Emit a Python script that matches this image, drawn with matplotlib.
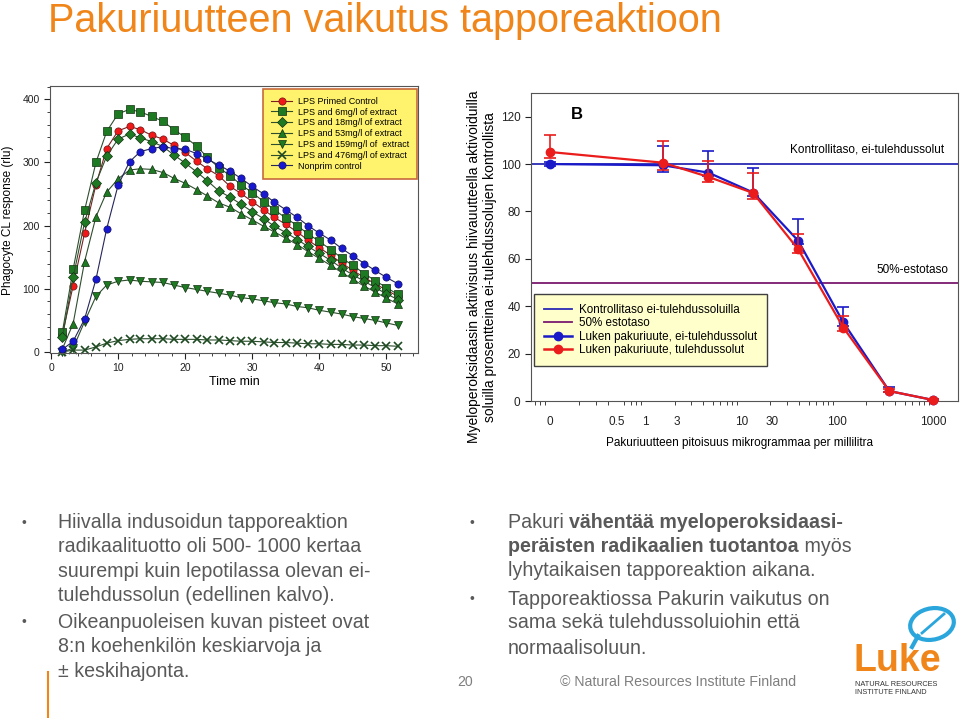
import matplotlib
matplotlib.use('Agg')
import matplotlib.pyplot as plt
from matplotlib.ticker import FixedLocator, MultipleLocator, NullFormatter, LogLocator, FixedFormatter
from matplotlib.patches import Ellipse
from matplotlib.lines import Line2D

plt.rcParams['font.family'] = ['Liberation Sans', 'DejaVu Sans']

W, H = 960, 718
fig = plt.figure(figsize=(9.6, 7.18), dpi=100)
fig.patch.set_facecolor('white')


def fx(x):
    return x / W


def fy(y):
    return 1 - y / H

# ---------------- data: left chart ----------------
time_min = [1.7, 3.3, 5.0, 6.7, 8.3, 10.0, 11.7, 13.3, 15.0, 16.7, 18.3, 20.0, 21.7, 23.3, 25.0, 26.7,
            28.3, 30.0, 31.7, 33.3, 35.0, 36.7, 38.3, 40.0, 41.7, 43.3, 45.0, 46.7, 48.3, 50.0, 51.7]
lps_control = [28, 105, 188, 265, 322, 350, 357, 352, 343, 337, 327, 316, 302, 290, 279, 262, 251, 238,
               225, 213, 202, 190, 177, 165, 153, 141, 129, 118, 108, 98, 88]
lps_6 = [32, 131, 224, 300, 349, 377, 384, 380, 373, 365, 352, 340, 326, 308, 292, 279, 265, 252, 238,
         225, 212, 200, 187, 175, 162, 149, 137, 124, 113, 102, 91]
lps_18 = [23, 118, 205, 268, 310, 337, 345, 339, 333, 325, 312, 299, 285, 271, 255, 245, 234, 222, 211,
          199, 189, 178, 167, 156, 145, 133, 122, 112, 102, 92, 83]
lps_53 = [5, 45, 143, 214, 253, 274, 288, 290, 289, 284, 275, 267, 257, 247, 236, 229, 219, 209, 199,
          190, 180, 170, 159, 148, 137, 126, 115, 104, 95, 85, 76]
lps_159 = [0, 6, 48, 88, 106, 112, 114, 112, 111, 110, 106, 102, 99, 96, 93, 90, 86, 84, 81, 78, 76,
           72, 70, 66, 63, 60, 56, 53, 50, 46, 42]
lps_476 = [0, 3, 3, 8, 14, 18, 20, 21, 21, 21, 20, 20, 20, 19, 19, 18, 17, 17, 16, 15, 15, 14, 13, 13,
           12, 12, 11, 11, 10, 10, 9]
nonprim = [4, 17, 52, 115, 195, 264, 301, 317, 322, 325, 322, 321, 314, 305, 296, 286, 275, 262, 250,
           237, 225, 213, 200, 188, 177, 164, 152, 140, 129, 118, 108]
left_labels = ['LPS Primed Control', 'LPS and 6mg/l of extract', 'LPS and 18mg/l of extract',
               'LPS and 53mg/l of extract', 'LPS and 159mg/l of  extract', 'LPS and 476mg/l of extract',
               'Nonprim control']

# ---------------- data: right chart ----------------
conc_pos = [0.1, 1.5, 4.5, 13.2, 39, 115, 347, 1000]   # "0" category drawn at 0.1 on log axis
blue_mean = [100, 99.5, 96.4, 88, 67.6, 33.2, 4.2, 0.4]
blue_lo = [1, 3, 1.5, 1.5, 1.5, 1.5, 0.5, 0.2]
blue_hi = [1, 8.3, 9, 10.5, 9.1, 6.4, 1.8, 0.3]
red_mean = [105.1, 100.6, 94.6, 87.8, 64, 31, 4.2, 0.4]
red_lo = [2.5, 3, 2.2, 2.7, 1.6, 1.5, 0.5, 0.2]
red_hi = [7.3, 9.1, 6.6, 8.3, 6.5, 4.8, 1, 0.3]
control_level = 100
inhib_level = 50
x_tick_pos = [0.1, 0.5, 1, 2.1, 10, 21, 100, 1000]
x_tick_labels = ['0', '0.5', '1', '3', '10', '30', '100', '1000']
right_labels = ['Kontrollitaso ei-tulehdussoluilla', '50% estotaso',
                'Luken pakuriuute, ei-tulehdussolut', 'Luken pakuriuute, tulehdussolut']

# ---------------- title ----------------
fig.text(fx(48), fy(32), 'Pakuriuutteen vaikutus tapporeaktioon', fontsize=28.5, color='#f0861a',
         ha='left', va='baseline')

# ---------------- left chart ----------------
axL = fig.add_axes([fx(50), fy(353), (418 - 50) / W, (353 - 86) / H])
red_c, grn_c, blu_c = '#f01818', '#1e7a22', '#1818d0'
specs = [
    (lps_control, 'o', red_c, '#7a2020', '#6e1515'),
    (lps_6, 's', grn_c, '#2e4e2e', '#103010'),
    (lps_18, 'D', grn_c, '#2e4e2e', '#103010'),
    (lps_53, '^', grn_c, '#2e4e2e', '#103010'),
    (lps_159, 'v', grn_c, '#2e4e2e', '#103010'),
    (lps_476, 'x', '#1e4a22', '#2e4e2e', '#1e4a22'),
    (nonprim, 'o', blu_c, '#25255a', '#101060'),
]
for (vals, mk, fc, lc, ec), lab in zip(specs, left_labels):
    ms = 4.6 if mk == 'D' else 5.2
    axL.plot(time_min, vals, color=lc, lw=0.8, marker=mk, ms=ms, mfc=fc, mec=ec, mew=0.5 if mk != 'x' else 1.2,
             label=lab, clip_on=False)
axL.set_xlim(-0.15, 54.7)
axL.set_ylim(-1.6, 421)
axL.xaxis.set_major_locator(MultipleLocator(10))
axL.xaxis.set_minor_locator(MultipleLocator(2))
axL.yaxis.set_major_locator(MultipleLocator(100))
axL.yaxis.set_minor_locator(MultipleLocator(20))
axL.tick_params(which='both', direction='out', labelsize=7.5, colors='#222222')
axL.tick_params(which='major', length=4, width=0.8)
axL.tick_params(which='minor', length=2.5, width=0.6)
for sp in axL.spines.values():
    sp.set_color('#555555')
    sp.set_linewidth(0.8)
axL.set_xlabel('Time min', fontsize=9, labelpad=2)
fig.text(fx(8), fy(220), 'Phagocyte CL response (rlu)', rotation=90, fontsize=8.5, ha='center', va='center')
legL = axL.legend(loc='upper right', bbox_to_anchor=(0.997, 0.99), fontsize=6.5, frameon=True, fancybox=False,
                  borderaxespad=0, labelspacing=0.2, handlelength=2.3, handletextpad=0.6, borderpad=0.9)
legL.get_frame().set_facecolor('#fff36d')
legL.get_frame().set_edgecolor('#c86a3c')
legL.get_frame().set_linewidth(1.2)
legL.get_frame().set_alpha(1)

# ---------------- right chart ----------------
axR = fig.add_axes([fx(531), fy(401), (958 - 531) / W, (401 - 93) / H])
axR.set_xscale('log')
axR.set_xlim(0.0637, 1806)
axR.set_ylim(0, 130)
ctl_col, inh_col = '#2a2ab4', '#7a1a6e'
axR.axhline(control_level, color=ctl_col, lw=1.3, zorder=2)
axR.axhline(inhib_level, color=inh_col, lw=1.3, zorder=2)
bcol, rcol = '#1a1ac8', '#ea1c1c'
axR.errorbar(conc_pos, blue_mean, yerr=[blue_lo, blue_hi], color=bcol, lw=1.6, marker='o', ms=6,
             capsize=4, elinewidth=1.2, capthick=1.2, zorder=4, clip_on=False)
axR.errorbar(conc_pos, red_mean, yerr=[red_lo, red_hi], color=rcol, lw=1.6, marker='o', ms=6,
             capsize=4, elinewidth=1.2, capthick=1.2, zorder=5, clip_on=False)
axR.xaxis.set_major_locator(FixedLocator(x_tick_pos))
axR.xaxis.set_major_formatter(FixedFormatter(x_tick_labels))
axR.xaxis.set_minor_locator(LogLocator(base=10, subs=[2, 3, 4, 5, 6, 7, 8, 9]))
axR.xaxis.set_minor_formatter(NullFormatter())
axR.yaxis.set_major_locator(MultipleLocator(20))
axR.tick_params(which='both', direction='out', labelsize=8.5, colors='#222222')
axR.tick_params(axis='x', which='major', length=0, pad=11)
axR.tick_params(axis='x', which='minor', length=3, width=0.6)
axR.tick_params(axis='y', which='major', length=4, width=0.8)
for sp in axR.spines.values():
    sp.set_color('#555555')
    sp.set_linewidth(0.8)
axR.text(0.107, 0.93, 'B', transform=axR.transAxes, fontsize=12, fontweight='bold', ha='center', va='center')
axR.text(0.968, 0.815, 'Kontrollitaso, ei-tulehdussolut', transform=axR.transAxes, fontsize=8.5,
         ha='right', va='center')
axR.text(0.978, 0.425, '50%-estotaso', transform=axR.transAxes, fontsize=8.5, ha='right', va='center')
hR = [Line2D([], [], color=ctl_col, lw=1.3),
      Line2D([], [], color=inh_col, lw=1.3),
      Line2D([], [], color=bcol, lw=1.8, marker='o', ms=6),
      Line2D([], [], color=rcol, lw=1.8, marker='o', ms=6)]
legR = axR.legend(hR, right_labels, loc='upper left', bbox_to_anchor=(0.007, 0.347), fontsize=8.4,
                  frameon=True, fancybox=False, borderaxespad=0, labelspacing=0.12, handlelength=2.4,
                  handletextpad=0.6, borderpad=0.85)
legR.get_frame().set_facecolor('#ffffcc')
legR.get_frame().set_edgecolor('#404040')
legR.get_frame().set_linewidth(1.0)
legR.get_frame().set_alpha(1)
fig.text(fx(739), fy(443), 'Pakuriuutteen pitoisuus mikrogrammaa per millilitra', fontsize=8.5,
         ha='center', va='center')
fig.text(fx(482), fy(267),
         'Myeloperoksidaasin aktiivisuus hiivauutteella aktivoiduilla\n'
         'soluilla prosentteina ei-tulehdussolujen kontrollista',
         rotation=90, fontsize=10, ha='center', va='center', linespacing=1.1, multialignment='center')

# ---------------- bullet texts ----------------
txt_col = '#595959'
fs = 14.1
left_lines = [(522.7, 'Hiivalla indusoidun tapporeaktion', True),
              (546.7, 'radikaalituotto oli 500- 1000 kertaa', False),
              (571.7, 'suurempi kuin lepotilassa olevan ei-', False),
              (595.7, 'tulehdussolun (edellinen kalvo).', False),
              (622.3, 'Oikeanpuoleisen kuvan pisteet ovat', True),
              (646.7, '8:n koehenkilön keskiarvoja ja', False),
              (671.7, '± keskihajonta.', False)]
for y, s, bul in left_lines:
    fig.text(fx(58), fy(y), s, fontsize=fs, color=txt_col, ha='left', va='center')
    if bul:
        fig.text(fx(21), fy(y), '•', fontsize=10, color=txt_col, ha='left', va='center')

renderer = fig.canvas.get_renderer()


def put_parts(x, y, parts):
    for s, bold in parts:
        t = fig.text(fx(x), fy(y), s, fontsize=fs, color=txt_col, ha='left', va='center',
                     fontweight='bold' if bold else 'normal')
        x += t.get_window_extent(renderer=renderer).width


right_lines = [(522.7, [('Pakuri ', False), ('vähentää myeloperoksidaasi-', True)], True),
               (546.7, [('peräisten radikaalien tuotantoa', True), (' myös', False)], False),
               (570.7, [('lyhytaikaisen tapporeaktion aikana.', False)], False),
               (599.3, [('Tapporeaktiossa Pakurin vaikutus on', False)], True),
               (623.0, [('sama sekä tulehdussoluiohin että', False)], False),
               (648.3, [('normaalisoluun.', False)], False)]
for y, parts, bul in right_lines:
    put_parts(508, y, parts)
    if bul:
        fig.text(fx(470), fy(y), '•', fontsize=10, color=txt_col, ha='left', va='center')

# ---------------- footer ----------------
fig.add_artist(Line2D([fx(48), fx(48)], [fy(672), fy(718)], color='#f0861a', lw=1.5))
fig.text(fx(457), fy(682), '20', fontsize=10.2, color='#7f7f7f', ha='left', va='center')
fig.text(fx(560), fy(682), '© Natural Resources Institute Finland', fontsize=10.2, color='#7f7f7f',
         ha='left', va='center')

# logo
fig.text(fx(853), fy(671), 'Luke', fontsize=27, color='#f0861a', fontweight='bold', ha='left',
         va='baseline')
fig.text(fx(855), fy(684), 'NATURAL RESOURCES', fontsize=5.3, color='#333333', ha='left', va='center')
fig.text(fx(855), fy(692), 'INSTITUTE FINLAND', fontsize=5.3, color='#333333', ha='left', va='center')
leaf = Ellipse((fx(932), fy(624)), width=46 / W, height=30 / H, angle=40, fill=False,
               edgecolor='#2aa6dc', lw=3, transform=fig.transFigure)
fig.add_artist(leaf)
fig.add_artist(Line2D([fx(912), fx(918)], [fy(647), fy(636)], color='#2aa6dc', lw=3))
fig.add_artist(Line2D([fx(922), fx(944)], [fy(633), fy(614)], color='#2aa6dc', lw=2))

fig.savefig('out.png', dpi=100)
